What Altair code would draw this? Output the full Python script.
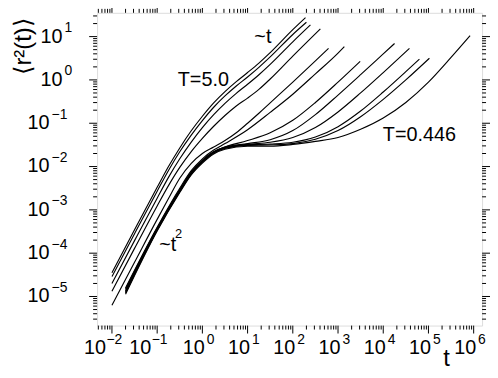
import altair as alt
import pandas as pd

# ---- data (t, <r^2(t)>) for each temperature ----
temps = ["5.0", "4.0", "3.0", "2.0", "1.0", "0.8", "0.6", "0.55", "0.5", "0.475", "0.466", "0.446"]

t_T50 = [0.01, 0.0316, 0.1, 0.178, 0.316, 0.562, 1.0, 1.78, 3.16, 5.62, 10, 17.8, 31.6, 100, 191]
r_T50 = [3.55e-5, 3.47e-4, 3.31e-3, 0.0100, 0.0269, 0.0661, 0.145, 0.295, 0.537, 0.912, 1.48, 2.45, 4.27, 14.5, 27.5]

t_T40 = [0.01, 0.0316, 0.1, 0.178, 0.316, 0.562, 1.0, 1.78, 3.16, 5.62, 10, 17.8, 31.6, 100, 200]
r_T40 = [2.88e-5, 2.82e-4, 2.69e-3, 8.13e-3, 0.0219, 0.0525, 0.115, 0.234, 0.427, 0.724, 1.17, 1.95, 3.39, 11.2, 21.4]

t_T30 = [0.01, 0.0316, 0.1, 0.178, 0.316, 0.562, 1.0, 1.78, 3.16, 5.62, 10, 17.8, 31.6, 100, 245]
r_T30 = [2.0e-5, 1.95e-4, 1.86e-3, 5.62e-3, 0.0151, 0.0363, 0.0794, 0.158, 0.288, 0.490, 0.794, 1.32, 2.29, 7.59, 18.6]

t_T20 = [0.01, 0.0316, 0.1, 0.178, 0.316, 0.562, 1.0, 1.78, 3.16, 5.62, 10, 17.8, 31.6, 100, 407]
r_T20 = [1.32e-5, 1.29e-4, 1.23e-3, 3.63e-3, 9.55e-3, 0.0219, 0.0447, 0.0851, 0.151, 0.251, 0.380, 0.603, 1.05, 3.55, 15.1]

t_T10 = [0.01, 0.0316, 0.1, 0.178, 0.316, 0.562, 1.0, 1.78, 3.16, 5.62, 10, 17.8, 31.6, 100, 316, 617]
r_T10 = [6.31e-6, 6.17e-5, 6.03e-4, 1.82e-3, 5.37e-3, 0.0117, 0.0200, 0.0282, 0.0398, 0.0603, 0.100, 0.170, 0.295, 0.891, 2.75, 5.37]

t_T08 = [0.02, 0.1, 0.316, 0.562, 1.0, 1.78, 3.16, 10, 31.6, 100, 316, 1000, 1380]
r_T08 = [1.58e-5, 3.98e-4, 3.16e-3, 7.94e-3, 0.0151, 0.0240, 0.0339, 0.0708, 0.178, 0.468, 1.38, 4.17, 5.89]

t_T06 = [0.02, 0.1, 0.316, 0.562, 1.0, 1.78, 3.16, 10, 31.6, 100, 316, 1000, 3090]
r_T06 = [1.48e-5, 3.80e-4, 2.95e-3, 7.41e-3, 0.0141, 0.0219, 0.0282, 0.0398, 0.0603, 0.117, 0.302, 0.891, 2.69]

t_T055 = [0.02, 0.1, 0.316, 0.562, 1.0, 1.78, 3.16, 10, 31.6, 100, 316, 1000, 3160, 10000, 17800]
r_T055 = [1.38e-5, 3.63e-4, 2.82e-3, 7.08e-3, 0.0135, 0.0219, 0.0282, 0.0339, 0.0417, 0.0676, 0.158, 0.447, 1.32, 3.98, 6.92]

t_T050 = [0.02, 0.1, 0.316, 0.562, 1.0, 1.78, 3.16, 10, 31.6, 100, 316, 1000, 3160, 10000, 38000]
r_T050 = [1.32e-5, 3.55e-4, 2.75e-3, 6.92e-3, 0.0132, 0.0214, 0.0275, 0.0324, 0.0363, 0.0468, 0.0794, 0.182, 0.501, 1.48, 5.37]

t_T0475 = [0.02, 0.1, 0.316, 0.562, 1.0, 1.78, 3.16, 10, 31.6, 100, 316, 1000, 3160, 10000, 31600, 63100]
r_T0475 = [1.26e-5, 3.47e-4, 2.69e-3, 6.76e-3, 0.0129, 0.0209, 0.0269, 0.0316, 0.0331, 0.0363, 0.0479, 0.0832, 0.191, 0.525, 1.55, 3.02]

t_T0466 = [0.02, 0.1, 0.316, 0.562, 1.0, 1.78, 3.16, 10, 31.6, 100, 316, 1000, 3160, 10000, 31600, 105000]
r_T0466 = [1.20e-5, 3.39e-4, 2.63e-3, 6.61e-3, 0.0126, 0.0204, 0.0263, 0.0309, 0.0316, 0.0339, 0.0427, 0.0676, 0.141, 0.355, 1.0, 3.16]

t_T0446 = [0.02, 0.1, 0.316, 0.562, 1.0, 1.78, 3.16, 10, 31.6, 100, 316, 1000, 3160, 10000, 31600, 100000, 316000, 832000]
r_T0446 = [1.12e-5, 3.24e-4, 2.51e-3, 6.31e-3, 0.0120, 0.0195, 0.0251, 0.0295, 0.0295, 0.0324, 0.0380, 0.0468, 0.0724, 0.132, 0.302, 0.891, 3.31, 10.5]

series = {
    "5.0": (t_T50, r_T50), "4.0": (t_T40, r_T40), "3.0": (t_T30, r_T30),
    "2.0": (t_T20, r_T20), "1.0": (t_T10, r_T10), "0.8": (t_T08, r_T08),
    "0.6": (t_T06, r_T06), "0.55": (t_T055, r_T055), "0.5": (t_T050, r_T050),
    "0.475": (t_T0475, r_T0475), "0.466": (t_T0466, r_T0466), "0.446": (t_T0446, r_T0446),
}

# axis ticks / labels
x_major = [0.01, 0.1, 1, 10, 100, 1e3, 1e4, 1e5, 1e6]
x_exp = ["\u22122", "\u22121", "0", "1", "2", "3", "4", "5", "6"]
y_major = [1e-5, 1e-4, 1e-3, 1e-2, 1e-1, 1, 10]
y_exp = ["\u22125", "\u22124", "\u22123", "\u22122", "\u22121", "0", "1"]
x_dom = [0.00469, 1.535e6]
y_dom = [2.13e-6, 35.4]

# annotations (text, t, r2)
ann_text = ["~t", "T=5.0", "T=0.446", "~t"]
ann_t = [21.8, 1.05, 63000, 0.171]
ann_r = [10.0, 1.0, 0.0527, 1.56e-4]

# ---------------------------------------------------------------
W, H = 389, 316
FONT = "Liberation Sans"
xs = alt.Scale(type="log", domain=x_dom, nice=False)
ys = alt.Scale(type="log", domain=y_dom, nice=False)

rows = []
for T in temps:
    tt, rr = series[T]
    for a, b in zip(tt, rr):
        rows.append({"T": T, "t": a, "r2": b})
df = pd.DataFrame(rows)

lines = alt.Chart(df).mark_line(color="black", strokeWidth=1.15, interpolate="monotone").encode(
    x=alt.X("t:Q", scale=xs, axis=None),
    y=alt.Y("r2:Q", scale=ys, axis=None),
    detail="T:N",
    order="t:Q",
)

x_minor = [m * 10.0 ** k for k in range(-3, 7) for m in range(2, 10)
           if x_dom[0] <= m * 10.0 ** k <= x_dom[1]]
y_minor = [m * 10.0 ** k for k in range(-6, 2) for m in range(2, 10)
           if y_dom[0] <= m * 10.0 ** k <= y_dom[1]]

MAJ, MIN = 8, 4


def xticks(vals, L, side):
    c = alt.Chart(pd.DataFrame({"v": vals})).mark_rule(color="black", strokeWidth=1)
    if side == "bottom":
        return c.encode(x=alt.X("v:Q", scale=xs, axis=None), y=alt.value(H), y2=alt.value(H + L))
    return c.encode(x=alt.X("v:Q", scale=xs, axis=None), y=alt.value(0), y2=alt.value(-L))


def yticks(vals, L, side):
    c = alt.Chart(pd.DataFrame({"v": vals})).mark_rule(color="black", strokeWidth=1)
    if side == "left":
        return c.encode(y=alt.Y("v:Q", scale=ys, axis=None), x=alt.value(0), x2=alt.value(-L))
    return c.encode(y=alt.Y("v:Q", scale=ys, axis=None), x=alt.value(W), x2=alt.value(W + L))


ticks = [xticks(x_major, MAJ, "bottom"), xticks(x_minor, MIN, "bottom"),
         xticks(x_major, MAJ, "top"), xticks(x_minor, MIN, "top"),
         yticks(y_major, MAJ, "left"), yticks(y_minor, MIN, "left"),
         yticks(y_major, MAJ, "right"), yticks(y_minor, MIN, "right")]

xl = pd.DataFrame({"v": x_major, "e": x_exp})
xl["neg"] = xl["e"].str.startswith("\u2212")
yl = pd.DataFrame({"v": y_major, "e": y_exp})
yl["neg"] = yl["e"].str.startswith("\u2212")

labels = []
for neg, d10, de in [(False, 2.5, 4.5), (True, -6, -5.5)]:
    sub = xl[xl["neg"] == neg]
    labels.append(alt.Chart(sub).mark_text(text="10", align="right", baseline="alphabetic", dx=d10,
                                           fontSize=20, font=FONT, color="black").encode(
        x=alt.X("v:Q", scale=xs, axis=None), y=alt.value(H + 29)))
    labels.append(alt.Chart(sub).mark_text(align="left", baseline="alphabetic", dx=de,
                                           fontSize=14, font=FONT, color="black").encode(
        x=alt.X("v:Q", scale=xs, axis=None), y=alt.value(H + 19), text="e:N"))
for neg, x10, xe in [(False, -35, -33), (True, -48, -46)]:
    sub = yl[yl["neg"] == neg]
    labels.append(alt.Chart(sub).mark_text(text="10", align="right", baseline="middle",
                                           fontSize=20, font=FONT, color="black").encode(
        y=alt.Y("v:Q", scale=ys, axis=None), x=alt.value(x10)))
    labels.append(alt.Chart(sub).mark_text(align="left", baseline="alphabetic", dy=-4.5,
                                           fontSize=14, font=FONT, color="black").encode(
        y=alt.Y("v:Q", scale=ys, axis=None), x=alt.value(xe), text="e:N"))

ann = pd.DataFrame({"s": ann_text, "t": ann_t, "r2": ann_r})
annotations = alt.Chart(ann).mark_text(fontSize=20, font=FONT, color="black", baseline="middle").encode(
    x=alt.X("t:Q", scale=xs, axis=None), y=alt.Y("r2:Q", scale=ys, axis=None), text="s:N")
sup2 = alt.Chart(pd.DataFrame({"s": ["2"], "t": [0.298], "r2": [2.78e-4]})).mark_text(
    fontSize=13, font=FONT, color="black", baseline="middle").encode(
    x=alt.X("t:Q", scale=xs, axis=None), y=alt.Y("r2:Q", scale=ys, axis=None), text="s:N")

ytitle = alt.Chart(pd.DataFrame({"s": ["\u27e8r\u00b2(t)\u27e9"]})).mark_text(
    fontSize=24, font=FONT, color="black", angle=270, align="center", baseline="middle").encode(
    x=alt.value(-74), y=alt.value(34), text="s:N")
xtitle = alt.Chart(pd.DataFrame({"s": ["t"]})).mark_text(
    fontSize=24, font=FONT, color="black", align="center", baseline="alphabetic").encode(
    x=alt.value(353), y=alt.value(H + 41), text="s:N")

chart = alt.layer(lines, *ticks, *labels, annotations, sup2, ytitle, xtitle).properties(
    width=W, height=H,
    autosize=alt.AutoSizeParams(type="none"),
    padding={"left": 90, "top": 3, "right": 8, "bottom": 43},
).configure_view(stroke="black", strokeWidth=1).configure(background="white")

chart.save("out.html", embed_options={"renderer": "svg", "actions": False})
